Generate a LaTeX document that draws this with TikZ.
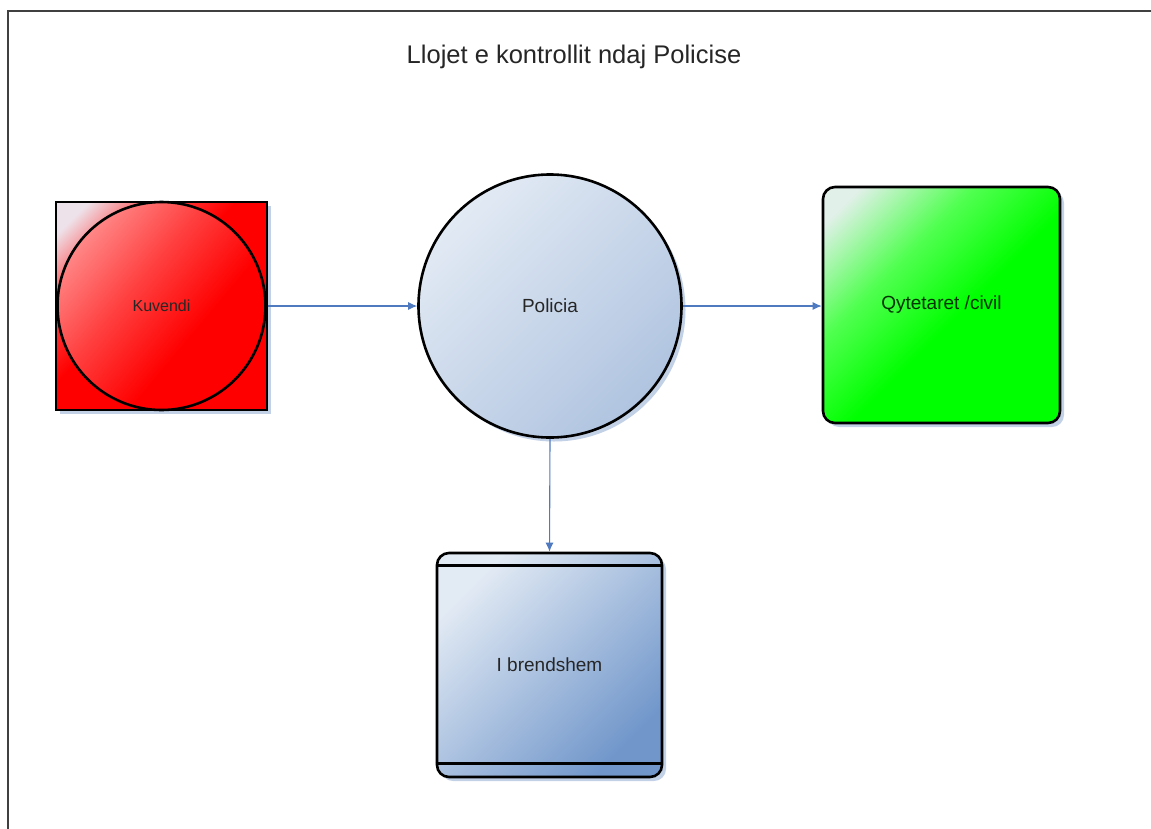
\documentclass[tikz,border=0pt]{standalone}
\usepackage{fontspec}
\setmainfont{Liberation Sans}
\usetikzlibrary{arrows.meta,shadows,calc}
\definecolor{framec}{HTML}{404040}
\definecolor{arrowc}{HTML}{4F7AC0}
\definecolor{shadowc}{HTML}{B4C6E2}
\definecolor{txt}{HTML}{262626}
\definecolor{palered}{HTML}{EEE2EA}
\definecolor{paleblue}{HTML}{E2EAF4}
\definecolor{polblue}{HTML}{B0C4E0}
\definecolor{ibblue}{HTML}{7096CA}
\definecolor{palegreen}{HTML}{E2F0EA}
\pgfdeclareverticalshading{redsq}{100bp}{color(0bp)=(red); color(55bp)=(red); color(68bp)=(red!72!white); color(80bp)=(palered); color(100bp)=(palered)}
\pgfdeclareverticalshading{redci}{100bp}{color(0bp)=(red); color(40bp)=(red); color(58bp)=(red!75!white); color(78bp)=(red!42!white); color(100bp)=(red!42!white)}
\pgfdeclareverticalshading{grsq}{100bp}{color(0bp)=(green); color(46bp)=(green); color(63bp)=(green!68!white); color(80bp)=(palegreen); color(100bp)=(palegreen)}
\tikzset{
  shp/.style={draw=black, line width=2.6pt, text=txt, inner sep=0pt},
  shd/.style={drop shadow={shadow xshift=4pt, shadow yshift=-4pt, fill=shadowc, opacity=0.8}},
  conn/.style={draw=arrowc, line width=1.1pt, -{Latex[length=9pt,width=8pt]}},
  lbl/.style={font=\fontsize{19}{22}\selectfont}
}
\begin{document}
\begin{tikzpicture}[x=1pt,y=-1pt]
\useasboundingbox (0,0) rectangle (1151,828);
\fill[white] (0,0) rectangle (1151,828);
\draw[framec, line width=2pt] (8,830) -- (8,11) -- (1153,11);
\node[text=txt, font=\fontsize{25.5}{30}\selectfont] (title) at (574,57) {Llojet e kontrollit ndaj Policise};
% Kuvendi
\node[shp, shd, rectangle, minimum width=211pt, minimum height=208pt, shading=redsq, shading angle=45] (kuvsq) at (161.5,306) {};
\node[shp, circle, minimum size=208pt, shading=redci, shading angle=50, text=black!85, font=\fontsize{16}{19}\selectfont] (kuv) at (161.5,306) {Kuvendi};
% Policia
\node[shp, shd, circle, minimum size=263pt, top color=paleblue, bottom color=polblue, shading angle=45, lbl] (pol) at (550,306) {Policia};
% Qytetaret
\node[shp, shd, rectangle, rounded corners=12pt, minimum width=237pt, minimum height=236pt, shading=grsq, shading angle=45, text=black!80!green, lbl] (qyt) at (941.5,305) {Qytetaret /civil};
% I brendshem
\node[shp, shd, rectangle, rounded corners=12pt, minimum width=225pt, minimum height=224pt, top color=paleblue, bottom color=ibblue, shading angle=45, lbl] (ib) at (549.5,665) {I brendshem};
\draw[black, line width=2.6pt] ($(ib.north west)+(0,14)$) -- ($(ib.north east)+(0,14)$);
\draw[black, line width=2.6pt] ($(ib.south west)+(0,-15)$) -- ($(ib.south east)+(0,-15)$);
% connectors
\draw[conn] (kuvsq.east) -- (pol.west);
\draw[conn] (pol.east) -- (pol.east -| qyt.west);
\draw[conn] (pol.south) -- (ib.north);
\end{tikzpicture}
\end{document}
